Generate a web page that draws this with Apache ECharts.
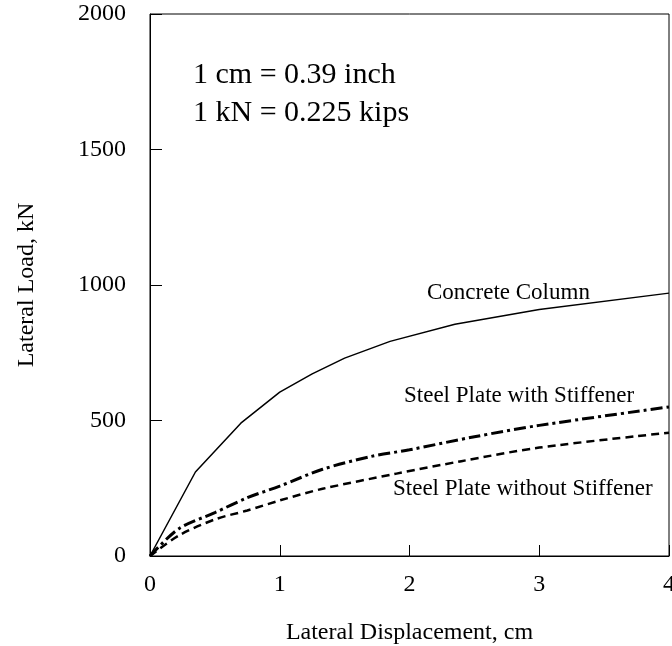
<!DOCTYPE html>
<html>
<head>
<meta charset="utf-8">
<script src="https://cdn.jsdelivr.net/npm/echarts@6/dist/echarts.min.js"></script>
<style>
  html, body { margin: 0; padding: 0; background: #fff; }
  #chart { width: 672px; height: 646px; }
</style>
</head>
<body>
<div id="chart"></div>
<script>
// Load–displacement curves (displacement in cm, load in kN)
const concreteX = [0, 0.35, 0.70, 1.00, 1.25, 1.50, 1.85, 2.35, 3.00, 4.00];
const concreteY = [0, 310, 490, 605, 672, 730, 792, 855, 910, 970];

const stiffenedX = [0, 0.22, 0.50, 0.75, 1.00, 1.33, 1.70, 2.00, 2.50, 3.00, 4.00];
const stiffenedY = [0, 100, 160, 215, 258, 320, 367, 392, 440, 482, 550];

const unstiffenedX = [0, 0.22, 0.50, 0.75, 1.00, 1.33, 1.90, 2.40, 3.00, 4.00];
const unstiffenedY = [0, 75, 135, 168, 205, 248, 304, 350, 400, 455];

const xTicks = [0, 1, 2, 3, 4];
const yTicks = [0, 500, 1000, 1500, 2000];

const seriesNames = ['Concrete Column', 'Steel Plate with Stiffener', 'Steel Plate without Stiffener'];
const noteLines = ['1 cm = 0.39 inch', '1 kN = 0.225 kips'];

const FONT = '"Liberation Serif", "Times New Roman", serif';

function pairs(xs, ys) { return xs.map((x, i) => [x, ys[i]]); }

const chart = echarts.init(document.getElementById('chart'), null, { renderer: 'canvas' });

chart.setOption({
  backgroundColor: '#fff',
  animation: false,
  grid: {
    left: 150, right: 3, top: 14, bottom: 90,
    containLabel: false, outerBoundsMode: 'none',
    show: true, borderColor: '#000', borderWidth: 1, backgroundColor: 'transparent'
  },
  xAxis: {
    type: 'value',
    min: xTicks[0], max: xTicks[xTicks.length - 1], interval: 1,
    name: 'Lateral Displacement, cm',
    nameLocation: 'middle', nameGap: 65,
    nameTextStyle: { fontFamily: FONT, fontSize: 24, color: '#000' },
    axisLine: { show: true, lineStyle: { color: '#000', width: 1 } },
    axisTick: { show: true, inside: true, length: 11, lineStyle: { color: '#000' } },
    axisLabel: { margin: 17, fontFamily: FONT, fontSize: 24, color: '#000', formatter: v => String(v) },
    splitLine: { show: false }
  },
  yAxis: {
    type: 'value',
    min: yTicks[0], max: yTicks[yTicks.length - 1], interval: 500,
    name: 'Lateral Load, kN',
    nameLocation: 'middle', nameGap: 111, nameRotate: 90,
    nameTextStyle: { fontFamily: FONT, fontSize: 24, color: '#000' },
    axisLine: { show: true, lineStyle: { color: '#000', width: 1 } },
    axisTick: { show: true, inside: true, length: 12, lineStyle: { color: '#000' } },
    axisLabel: { margin: 24, fontFamily: FONT, fontSize: 24, color: '#000', formatter: v => String(v) },
    splitLine: { show: false }
  },
  series: [
    {
      name: seriesNames[0], type: 'line', data: pairs(concreteX, concreteY),
      symbol: 'none', smooth: false,
      lineStyle: { color: '#000', width: 1.5, type: 'solid' }
    },
    {
      name: seriesNames[1], type: 'line', data: pairs(stiffenedX, stiffenedY),
      symbol: 'none', smooth: 0.3,
      lineStyle: { color: '#000', width: 3, type: [12, 4, 3, 4] }
    },
    {
      name: seriesNames[2], type: 'line', data: pairs(unstiffenedX, unstiffenedY),
      symbol: 'none', smooth: 0.3,
      lineStyle: { color: '#000', width: 2.5, type: [8, 5] }
    }
  ],
  graphic: [
    { type: 'text', left: 193, top: 60,
      style: { text: noteLines[0], font: '30px ' + FONT, fill: '#000' } },
    { type: 'text', left: 193, top: 98,
      style: { text: noteLines[1], font: '30px ' + FONT, fill: '#000' } },
    { type: 'text', left: 427, top: 281,
      style: { text: seriesNames[0], font: '23px ' + FONT, fill: '#000' } },
    { type: 'text', left: 404, top: 384,
      style: { text: seriesNames[1], font: '23px ' + FONT, fill: '#000' } },
    { type: 'text', left: 393, top: 477,
      style: { text: seriesNames[2], font: '23px ' + FONT, fill: '#000' } }
  ]
});
</script>
</body>
</html>
